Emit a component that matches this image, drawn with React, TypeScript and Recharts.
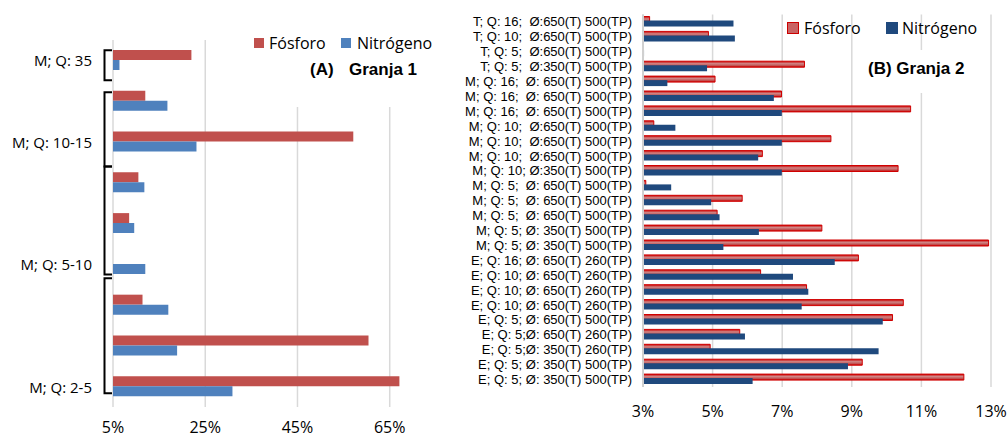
import React from 'react';
import { BarChart, Bar, XAxis, YAxis, CartesianGrid, Legend } from 'recharts';

// Granja 1 (panel A), rows top to bottom
const farm1Ids = ['a1', 'a2', 'a3', 'a4', 'a5', 'a6', 'a7', 'a8', 'a9'];
const farm1Labels = ['M; Q: 35', '', 'M; Q: 10-15', '', '', 'M; Q: 5-10', '', '', 'M; Q: 2-5'];
const farm1Fosforo = [22.0, 12.0, 57.1, 10.5, 8.5, null, 11.4, 60.4, 67.1];
const farm1Nitrogeno = [6.4, 16.8, 23.1, 11.8, 9.6, 12.0, 17.0, 18.9, 30.9];
const farm1Ticks = [5, 25, 45, 65];
// brackets: [row that carries the label, start, end] in row units from the top
const farm1Brackets = [
  [0, 0.25, 0.99],
  [2, 1.28, 3.1],
  [5, 3.1, 5.75],
  [8, 5.84, 8.66],
];

// Granja 2 (panel B), rows top to bottom
const farm2Labels = [
  'T; Q: 16;  Ø:650(T) 500(TP)',
  'T; Q: 10;  Ø:650(T) 500(TP)',
  'T; Q: 5;  Ø:650(T) 500(TP)',
  'T; Q: 5;  Ø:350(T) 500(TP)',
  'M; Q: 16;  Ø: 650(T) 500(TP)',
  'M; Q: 16;  Ø: 650(T) 500(TP)',
  'M; Q: 16;  Ø: 650(T) 500(TP)',
  'M; Q: 10;  Ø:650(T) 500(TP)',
  'M; Q: 10;  Ø:650(T) 500(TP)',
  'M; Q: 10;  Ø:650(T) 500(TP)',
  'M; Q: 10; Ø:350(T) 500(TP)',
  'M; Q: 5;  Ø: 650(T) 500(TP)',
  'M; Q: 5;  Ø: 650(T) 500(TP)',
  'M; Q: 5;  Ø: 650(T) 500(TP)',
  'M; Q: 5; Ø: 350(T) 500(TP)',
  'M; Q: 5; Ø: 350(T) 500(TP)',
  'E; Q: 16; Ø: 650(T) 260(TP)',
  'E; Q: 10; Ø: 650(T) 260(TP)',
  'E; Q: 10; Ø: 650(T) 260(TP)',
  'E; Q: 10; Ø: 650(T) 260(TP)',
  'E; Q: 5; Ø: 650(T) 500(TP)',
  'E; Q: 5;Ø: 650(T) 260(TP)',
  'E; Q: 5;Ø: 350(T) 260(TP)',
  'E; Q: 5; Ø: 350(T) 500(TP)',
  'E; Q: 5; Ø: 350(T) 500(TP)',
];
const farm2Fosforo = [3.19, 4.88, null, 7.64, 5.07, 6.98, 10.69, 3.31, 8.4, 6.43, 10.33, 3.08, 5.85, 5.13, 8.14, 12.93, 9.19, 6.38, 7.7, 10.48, 10.17, 5.78, 4.93, 9.3, 12.22];
const farm2Nitrogeno = [5.6, 5.64, 3.03, 4.84, 3.7, 6.76, 6.99, 3.93, 6.99, 6.31, 6.99, 3.81, 4.96, 5.2, 6.33, 5.31, 8.51, 7.31, 7.75, 7.56, 9.89, 5.93, 9.77, 8.89, 6.15];
const farm2Ticks = [3, 5, 7, 9, 11, 13];

const farm1Data = farm1Ids.map((id, i) => ({ id, fosforo: farm1Fosforo[i], nitrogeno: farm1Nitrogeno[i] }));
const farm2Data = farm2Labels.map((_, i) => ({ id: 'b' + i, fosforo: farm2Fosforo[i], nitrogeno: farm2Nitrogeno[i] }));

const A_W = 440;
const B_W = 568;
const H = 439;
const A_MARGIN = { top: 40, right: 18, bottom: 2, left: 0 };
const B_MARGIN = { top: 14.5, right: 17, bottom: 22, left: 0 };
const X_AXIS_H = 30;
const A_BAND = (H - A_MARGIN.top - A_MARGIN.bottom - X_AXIS_H) / farm1Ids.length;

const sans = 'Open Sans';
const arial = '"Liberation Sans", Arial';

const Farm1Tick = (props: any) => {
  const { x, y, payload } = props;
  const i = farm1Ids.indexOf(payload.value);
  const label = farm1Labels[i];
  const bracket = farm1Brackets.find((b) => b[0] === i);
  let path = null;
  if (bracket) {
    const top = y - (i + 0.5) * A_BAND;
    const y1 = top + bracket[1] * A_BAND;
    const y2 = top + bracket[2] * A_BAND;
    const bx = x - 8.5;
    path = (
      <path
        d={`M${x - 1},${y1} H${bx} V${y2} H${x - 1}`}
        fill="none"
        stroke="#000"
        strokeWidth={2}
      />
    );
  }
  return (
    <g>
      {path}
      {label ? (
        <text x={x - 21} y={y} textAnchor="end" dominantBaseline="central" fontSize={15} fontFamily={sans} fill="#000">
          {label}
        </text>
      ) : null}
    </g>
  );
};

const Farm2Tick = (props: any) => {
  const { x, y, payload } = props;
  const i = Number(String(payload.value).slice(1));
  return (
    <text
      x={x - 11}
      y={y}
      textAnchor="end"
      dominantBaseline="central"
      fontSize={13}
      fontFamily={arial}
      fill="#000"
      xmlSpace="preserve"
      style={{ whiteSpace: 'pre' }}
    >
      {farm2Labels[i]}
    </text>
  );
};

const Farm1Legend = () => (
  <div style={{ position: 'relative', width: 190, height: 77, background: '#fff', fontFamily: sans, fontSize: 16, color: '#000' }}>
    <span style={{ position: 'absolute', left: 6, top: 8, width: 10, height: 10, background: '#c0504d' }} />
    <span style={{ position: 'absolute', left: 21, top: 0, lineHeight: '26px' }}>Fósforo</span>
    <span style={{ position: 'absolute', left: 93, top: 8, width: 10, height: 10, background: '#4f81bd' }} />
    <span style={{ position: 'absolute', left: 109, top: 0, lineHeight: '26px' }}>Nitrógeno</span>
    <span style={{ position: 'absolute', left: 62, top: 28, lineHeight: '24px', fontFamily: arial, fontWeight: 'bold', fontSize: 17 }}>(A)</span>
    <span style={{ position: 'absolute', left: 101, top: 28, lineHeight: '24px', fontFamily: arial, fontWeight: 'bold', fontSize: 17 }}>Granja 1</span>
  </div>
);

const Farm2Legend = () => (
  <div style={{ position: 'relative', width: 220, height: 28, fontFamily: sans, fontSize: 16, color: '#000' }}>
    <span style={{ position: 'absolute', left: 5, top: 8, width: 10, height: 10, background: '#c86464', border: '1px solid #cc0000' }} />
    <span style={{ position: 'absolute', left: 22, top: 0, lineHeight: '28px' }}>Fósforo</span>
    <span style={{ position: 'absolute', left: 104, top: 8, width: 12, height: 12, background: '#1f497d' }} />
    <span style={{ position: 'absolute', left: 120, top: 0, lineHeight: '28px' }}>Nitrógeno</span>
  </div>
);

const App: React.FC = () => {
  return (
    <div style={{ position: 'absolute', left: 0, top: 0, width: 1008, height: H, background: '#fff' }}>
      <div style={{ position: 'absolute', left: 0, top: 0 }}>
        <BarChart width={A_W} height={H} data={farm1Data} layout="vertical" margin={A_MARGIN} barSize={10} barGap={0}>
          <CartesianGrid horizontal={false} stroke="#d9d9d9" strokeWidth={1.5} syncWithTicks />
          <XAxis
            type="number"
            domain={[5, 72]}
            ticks={farm1Ticks}
            tickFormatter={(v) => `${v}%`}
            axisLine={false}
            tickLine={false}
            tickSize={0}
            tickMargin={15}
            height={X_AXIS_H}
            tick={{ fontSize: 16, fontFamily: sans, fill: '#000' }}
          />
          <YAxis
            type="category"
            dataKey="id"
            width={113}
            axisLine={false}
            tickLine={false}
            tickSize={0}
            tickMargin={0}
            interval={0}
            tick={<Farm1Tick />}
          />
          <Legend
            layout="horizontal"
            verticalAlign="middle"
            align="center"
            content={<Farm1Legend />}
            wrapperStyle={{ left: 248, top: 30, width: 190, height: 77 }}
          />
          <Bar dataKey="fosforo" name="Fósforo" fill="#c0504d" isAnimationActive={false} />
          <Bar dataKey="nitrogeno" name="Nitrógeno" fill="#4f81bd" isAnimationActive={false} />
        </BarChart>
      </div>

      <div style={{ position: 'absolute', left: A_W, top: 0 }}>
        <BarChart width={B_W} height={H} data={farm2Data} layout="vertical" margin={B_MARGIN} barSize={6} barGap={-2}>
          <defs>
            <linearGradient id="fosforoFill" x1="0" y1="0" x2="0" y2="1">
              <stop offset="0%" stopColor="#cc0000" />
              <stop offset="40%" stopColor="#cf8585" />
              <stop offset="70%" stopColor="#c25a5a" />
              <stop offset="100%" stopColor="#cc0000" />
            </linearGradient>
          </defs>
          <CartesianGrid horizontal={false} stroke="#d9d9d9" strokeWidth={1.5} syncWithTicks />
          <XAxis
            type="number"
            domain={[3, 13]}
            ticks={farm2Ticks}
            tickFormatter={(v) => `${v}%`}
            axisLine={false}
            tickLine={false}
            tickSize={0}
            tickMargin={19}
            height={X_AXIS_H}
            tick={{ fontSize: 16, fontFamily: sans, fill: '#000' }}
          />
          <YAxis
            type="category"
            dataKey="id"
            width={203}
            axisLine={{ stroke: '#d0d0d0', strokeWidth: 2 }}
            tickLine={false}
            tickSize={0}
            tickMargin={0}
            interval={0}
            tick={<Farm2Tick />}
          />
          <Legend
            layout="horizontal"
            verticalAlign="middle"
            align="center"
            content={<Farm2Legend />}
            wrapperStyle={{ left: 342, top: 14, width: 220, height: 28 }}
          />
          <Bar dataKey="fosforo" name="Fósforo" fill="url(#fosforoFill)" stroke="#d00000" strokeWidth={1} isAnimationActive={false} />
          <Bar dataKey="nitrogeno" name="Nitrógeno" fill="#1f497d" isAnimationActive={false} />
        </BarChart>
      </div>

      <div
        style={{
          position: 'absolute',
          left: 862,
          top: 50,
          width: 112,
          height: 43,
          background: '#fff',
          fontFamily: arial,
          fontWeight: 'bold',
          fontSize: 17,
          lineHeight: '38px',
          paddingLeft: 6,
          boxSizing: 'border-box',
          color: '#000',
        }}
      >
        (B) Granja 2
      </div>
    </div>
  );
};

export default App;
